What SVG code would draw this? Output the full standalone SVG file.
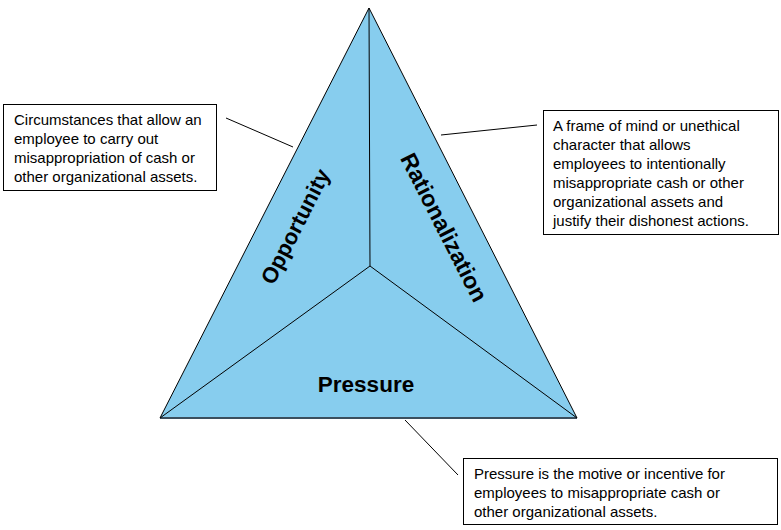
<svg xmlns="http://www.w3.org/2000/svg" width="781" height="530" viewBox="0 0 781 530">
<style>
.box{fill:#fff;stroke:#000;stroke-width:1}
.t{font-family:"Liberation Sans",Arial,sans-serif;font-size:15px;fill:#000}
.lbl{font-family:"Liberation Sans",Arial,sans-serif;font-size:22px;font-weight:bold;fill:#000}
.ln{stroke:#000;stroke-width:1;fill:none}
</style>
<rect width="781" height="530" fill="#fff"/>
<g id="triangle">
<polygon points="369,8 160,418 577,418" fill="#87CDEE" stroke="#000" stroke-width="1"/>
<line x1="160" y1="418" x2="577" y2="418" stroke="#3B4F5E" stroke-width="2"/>
<line class="ln" x1="369" y1="8" x2="370" y2="266"/>
<line class="ln" x1="370" y1="266" x2="160" y2="418"/>
<line class="ln" x1="370" y1="266" x2="577" y2="418"/>
</g>
<g id="opportunity">
<text class="lbl" text-anchor="middle" transform="translate(302,230) rotate(-63)">Opportunity</text>
</g>
<g id="rationalization">
<text class="lbl" text-anchor="middle" style="font-size:23px" transform="translate(437,231) rotate(63)">Rationalization</text>
</g>
<g id="pressure">
<text class="lbl" text-anchor="middle" x="366" y="392" style="font-size:22.5px">Pressure</text>
</g>
<g id="connectors">
<line class="ln" x1="226" y1="118" x2="293" y2="147"/>
<line class="ln" x1="441" y1="135" x2="537" y2="125"/>
<line class="ln" x1="405" y1="420" x2="458" y2="475"/>
</g>
<g id="box-opportunity">
<rect class="box" x="3.5" y="104.5" width="213" height="86"/>
<text class="t" x="14" y="125">Circumstances that allow an</text>
<text class="t" x="14" y="144">employee to carry out</text>
<text class="t" x="14" y="163">misappropriation of cash or</text>
<text class="t" x="14" y="182">other organizational assets.</text>
</g>
<g id="box-rationalization">
<rect class="box" x="543.5" y="110.5" width="235" height="124"/>
<text class="t" x="553" y="131">A frame of mind or unethical</text>
<text class="t" x="553" y="150">character that allows</text>
<text class="t" x="553" y="169">employees to intentionally</text>
<text class="t" x="553" y="188">misappropriate cash or other</text>
<text class="t" x="553" y="207">organizational assets and</text>
<text class="t" x="553" y="226">justify their dishonest actions.</text>
</g>
<g id="box-pressure">
<rect class="box" x="463.5" y="458.5" width="314" height="66"/>
<text class="t" x="474" y="479">Pressure is the motive or incentive for</text>
<text class="t" x="474" y="498">employees to misappropriate cash or</text>
<text class="t" x="474" y="517">other organizational assets.</text>
</g>
</svg>
